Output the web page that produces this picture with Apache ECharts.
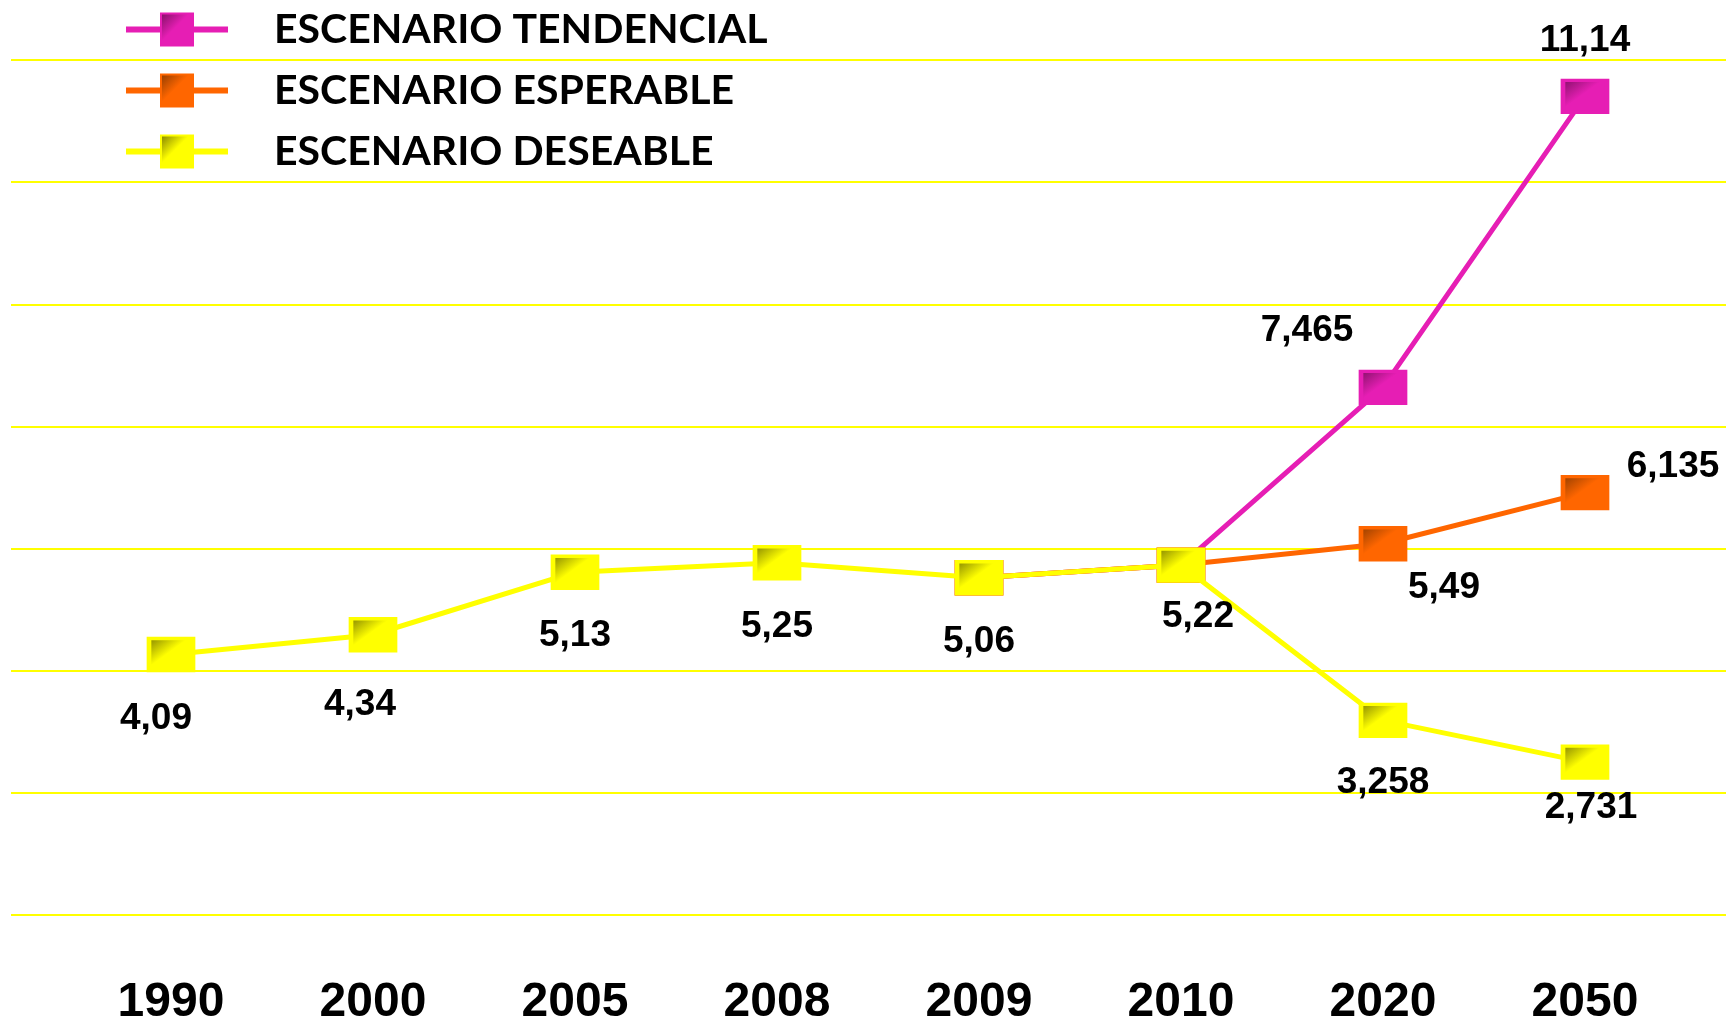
<!DOCTYPE html>
<html>
<head>
<meta charset="utf-8">
<style>
  html, body { margin: 0; padding: 0; background: #fff; }
  #chart { width: 1726px; height: 1021px; }
</style>
<script src="https://cdn.jsdelivr.net/npm/echarts@6/dist/echarts.min.js"></script>
</head>
<body>
<div id="chart"></div>
<script>
// datos
const years = ['1990', '2000', '2005', '2008', '2009', '2010', '2020', '2050'];
const tendencial = [null, null, null, null, 5.06, 5.22, 7.465, 11.14];
const esperable = [null, null, null, null, 5.06, 5.22, 5.49, 6.135];
const deseable = [4.09, 4.34, 5.13, 5.25, 5.06, 5.22, 3.258, 2.731];
const seriesNames = ['ESCENARIO TENDENCIAL', 'ESCENARIO ESPERABLE', 'ESCENARIO DESEABLE'];

const chart = echarts.init(document.getElementById('chart'));

const fmt = v => String(v).replace('.', ',');

function bevel(dark, base) {
    return new echarts.graphic.LinearGradient(0, 0, 1, 1, [
        { offset: 0, color: dark },
        { offset: 0.45, color: base },
        { offset: 1, color: base }
    ]);
}

// offsets de las etiquetas respecto al marcador
const labelOffsets = {
    0: { 6: [-76, -57], 7: [0, -56] },
    1: { 6: [61, 44], 7: [88, -26] },
    2: { 0: [-15, 64], 1: [-13, 70], 2: [0, 64], 3: [0, 64], 4: [0, 64], 5: [17, 52], 6: [0, 62], 7: [6, 46] }
};

function buildData(values, idx) {
    return values.map((v, i) => {
        const off = labelOffsets[idx][i];
        return {
            value: v,
            label: off ? { show: true, position: 'inside', offset: off } : { show: false }
        };
    });
}

const colors = [
    { base: '#E61EB4', dark: '#7A1060' },
    { base: '#FF6600', dark: '#8A3A00' },
    { base: '#FFFF00', dark: '#7A7A00' }
];

const series = [tendencial, esperable, deseable].map((vals, idx) => ({
    name: seriesNames[idx],
    type: 'line',
    xAxisIndex: 1,
    yAxisIndex: 1,
    data: buildData(vals, idx),
    symbol: 'rect',
    symbolSize: [44, 32],
    showAllSymbol: true,
    z: 3 + idx,
    lineStyle: { color: colors[idx].base, width: 5 },
    itemStyle: {
        color: bevel(colors[idx].dark, colors[idx].base),
        borderColor: colors[idx].base,
        borderWidth: 4
    },
    label: {
        color: '#000',
        fontFamily: 'Liberation Sans',
        fontWeight: 'bold',
        fontSize: 37,
        formatter: p => fmt(p.value)
    },
    emphasis: { disabled: true }
}));

const option = {
    animation: false,
    backgroundColor: '#fff',
    legend: {
        orient: 'vertical',
        left: 118,
        top: 4,
        itemWidth: 102,
        itemHeight: 40,
        itemGap: 20,
        data: seriesNames,
        lineStyle: { width: 6 },
        textStyle: {
            color: '#000',
            fontFamily: 'Lato',
            fontWeight: 'bold',
            fontSize: 41,
            lineHeight: 40,
            padding: [0, 0, 0, 41]
        }
    },
    grid: [
        { left: 11, right: 0, top: 60, bottom: 106, outerBoundsMode: 'none' },
        { left: 171, right: 141, top: 60, bottom: 106, outerBoundsMode: 'none' }
    ],
    xAxis: [
        { type: 'value', gridIndex: 0, show: false, min: 0, max: 1 },
        {
            type: 'category',
            gridIndex: 1,
            data: years,
            boundaryGap: false,
            axisLine: { show: false },
            axisTick: { show: false },
            axisLabel: {
                margin: 64,
                color: '#000',
                fontFamily: 'Liberation Sans',
                fontWeight: 'bold',
                fontSize: 48
            }
        }
    ],
    yAxis: [
        {
            // solo las líneas de fondo
            type: 'value',
            gridIndex: 0,
            min: 0,
            max: 7,
            interval: 1,
            axisLine: { show: false },
            axisTick: { show: false },
            axisLabel: { show: false },
            splitLine: { lineStyle: { color: '#FFFF00', width: 2 } }
        },
        {
            type: 'value',
            gridIndex: 1,
            min: 0.8,
            max: 11.6,
            show: false,
            splitLine: { show: false }
        }
    ],
    series: series
};

chart.setOption(option);

window.addEventListener('resize', function () {
    chart.resize();
});
</script>
</body>
</html>
